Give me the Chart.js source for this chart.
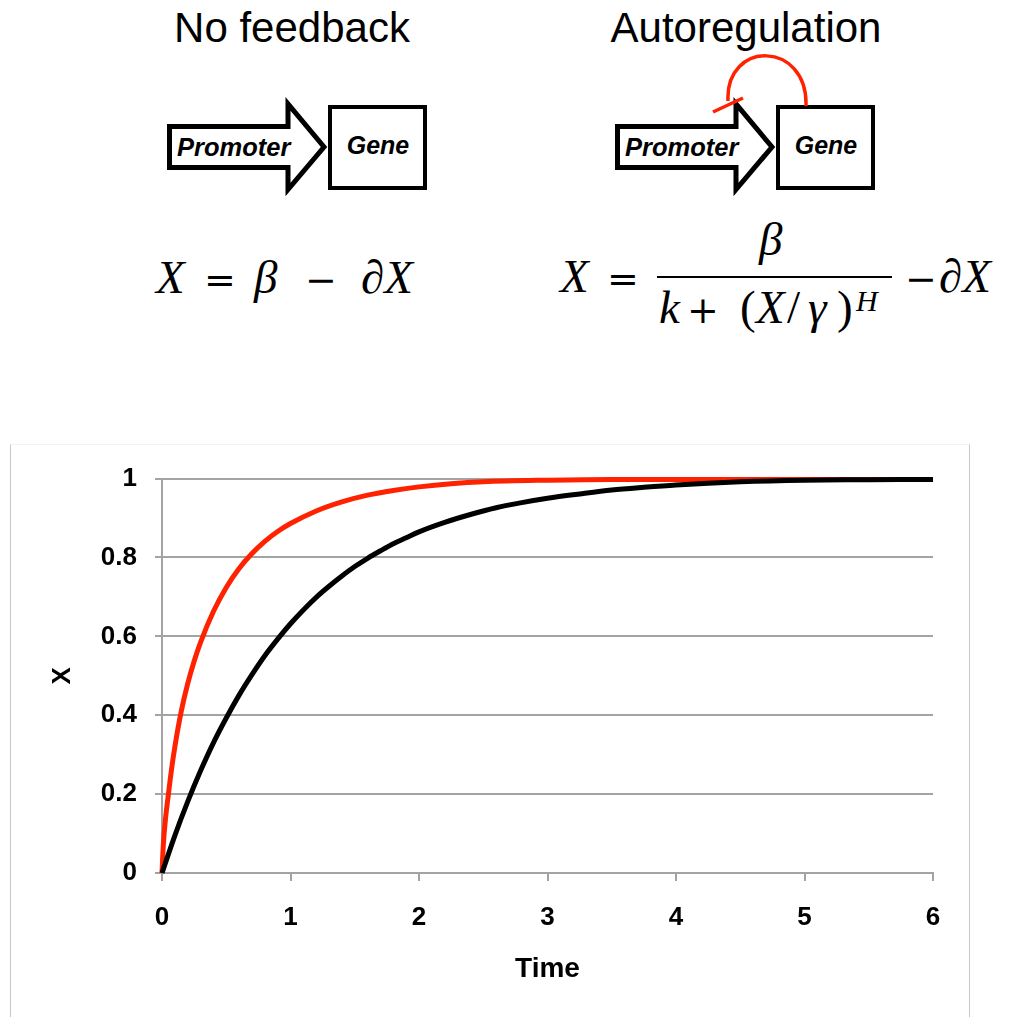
<!DOCTYPE html>
<html>
<head>
<meta charset="utf-8">
<title>Autoregulation</title>
<script src="https://cdn.jsdelivr.net/npm/chart.js@4.4.1/dist/chart.umd.min.js"></script>
<style>
  html, body { margin: 0; padding: 0; background: #fff; }
  body { width: 1011px; height: 1017px; position: relative; overflow: hidden; }
  #top { position: absolute; left: 0; top: 0; }
  #frame { position: absolute; left: 10px; top: 444px; width: 958px; height: 580px;
           border-left: 1px solid #c8c8c8; border-right: 1px solid #c8c8c8; border-top: 1px solid #f3f3f3; }
  #wrap { position: absolute; left: 10px; top: 445px; width: 958px; height: 572px; }
  .sans { font-family: "Liberation Sans", Arial, sans-serif; }
  .math { font-family: "Liberation Serif", "DejaVu Serif", serif; font-size: 47px; }
  .math .v { font-style: italic; }
  .math .op { font-family: "DejaVu Serif", serif; font-size: 38px; }
</style>
</head>
<body>

<svg id="top" width="1011" height="440" xmlns="http://www.w3.org/2000/svg">
  <text class="sans" x="292" y="42" font-size="42" text-anchor="middle">No feedback</text>
  <text class="sans" x="746" y="42" font-size="42" text-anchor="middle">Autoregulation</text>

  <!-- promoter arrow + gene box, left one plain -->
  <g id="construct">
    <polygon points="169.5,126.5 288,126.5 288,104 324,147 288,189.5 288,167.5 169.5,167.5"
             fill="#fff" stroke="#000" stroke-width="5" stroke-linejoin="miter"/>
    <rect x="330" y="107" width="95" height="81" fill="#fff" stroke="#000" stroke-width="4"/>
    <text class="sans" x="177" y="156" font-size="25.5" font-weight="bold" font-style="italic">Promoter</text>
    <text class="sans" x="378" y="154" font-size="25" font-weight="bold" font-style="italic" text-anchor="middle">Gene</text>
  </g>
  <use href="#construct" transform="translate(448,0)"/>

  <!-- negative feedback loop -->
  <path d="M 728 101 C 725 40, 808 40, 806 106" fill="none" stroke="#ff2200" stroke-width="3.5"/>
  <line x1="713" y1="112" x2="743" y2="98" stroke="#ff2200" stroke-width="3.5"/>

  <!-- rate equations -->
  <g class="math">
    <text class="v" x="156" y="293">X</text>
    <text class="op" x="204" y="293">=</text>
    <text class="v" x="254" y="293">β</text>
    <text class="op" x="305" y="293">−</text>
    <text class="v" x="361" y="293">∂X</text>

    <text class="v" x="560" y="292">X</text>
    <text class="op" x="607" y="292">=</text>
    <text class="v" x="759" y="255">β</text>
    <line x1="657" y1="277" x2="892" y2="277" stroke="#000" stroke-width="2"/>
    <text class="v" x="659" y="323">k</text>
    <text class="op" x="687" y="323">+</text>
    <text x="740" y="323">(</text>
    <text class="v" x="756" y="323">X</text>
    <text x="787" y="323">/</text>
    <text class="v" x="808" y="323">γ</text>
    <text x="837" y="323">)</text>
    <text class="v" x="856" y="311" font-size="30">H</text>
    <text class="op" x="905" y="292">−</text>
    <text class="v" x="939" y="292">∂X</text>
  </g>
</svg>

<div id="frame"></div>
<div id="wrap"><canvas id="myChart" width="958" height="572"></canvas></div>

<script>
// no feedback (black)
var time_plain = [0, 0.1, 0.2, 0.3, 0.4, 0.5, 0.6, 0.7, 0.8, 0.9, 1.0, 1.1, 1.2, 1.3, 1.4, 1.5,
                  1.6, 1.7, 1.8, 1.9, 2.0, 2.2, 2.4, 2.6, 2.8, 3.0, 3.25, 3.5, 3.75, 4.0,
                  4.5, 5.0, 5.5, 6.0];
var x_plain = [0, 0.095, 0.181, 0.259, 0.330, 0.393, 0.451, 0.503, 0.551, 0.593, 0.632, 0.667,
               0.699, 0.727, 0.753, 0.777, 0.798, 0.817, 0.835, 0.850, 0.865, 0.889, 0.909,
               0.926, 0.939, 0.950, 0.961, 0.971, 0.978, 0.984, 0.992, 0.996, 0.997, 0.998];

// negative autoregulation (red)
var time_auto = [0, 0.01, 0.025, 0.05, 0.075, 0.1, 0.15, 0.2, 0.25, 0.3, 0.4, 0.5, 0.6, 0.7,
                 0.8, 0.9, 1.0, 1.2, 1.4, 1.6, 1.8, 2.0, 2.25, 2.5, 3.0, 3.5, 4.0, 5.0, 6.0];
var x_auto = [0, 0.07, 0.13, 0.2, 0.265, 0.32, 0.41, 0.48, 0.537, 0.585, 0.663, 0.724, 0.772,
              0.810, 0.841, 0.866, 0.886, 0.918, 0.941, 0.958, 0.970, 0.979, 0.987, 0.992,
              0.996, 0.998, 0.998, 0.998, 0.998];

var xTicks = [0, 1, 2, 3, 4, 5, 6];
var xTickLabels = ['0', '1', '2', '3', '4', '5', '6'];
var yTicks = [0, 0.2, 0.4, 0.6, 0.8, 1];
var yTickLabels = ['0', '0.2', '0.4', '0.6', '0.8', '1'];

function pts(ts, ys) {
    return ts.map(function(t, i) { return {x: t, y: ys[i]}; });
}

var gridColor = '#a3a3a3';
var sansFamily = '"Liberation Sans", Arial, sans-serif';
var tickFont = {family: sansFamily, size: 26, weight: 'bold'};

var ctx = document.getElementById('myChart');
var myChart = new Chart(ctx, {
    type: 'scatter',
    data: {
        // black listed first with lower order so it sits on top of the red one
        datasets: [{
            label: 'No feedback',
            data: pts(time_plain, x_plain),
            borderColor: '#000000',
            borderWidth: 5,
            showLine: true,
            pointRadius: 0,
            cubicInterpolationMode: 'monotone',
            clip: false,
            order: 0
        }, {
            label: 'Autoregulation',
            data: pts(time_auto, x_auto),
            borderColor: '#ff2200',
            borderWidth: 5,
            showLine: true,
            pointRadius: 0,
            cubicInterpolationMode: 'monotone',
            clip: false,
            order: 1
        }]
    },
    options: {
        responsive: false,
        animation: false,
        devicePixelRatio: 1,
        layout: {padding: {top: 30, right: 35, left: 0, bottom: 0}},
        plugins: {legend: {display: false}, tooltip: {enabled: false}},
        scales: {
            x: {
                type: 'linear',
                min: 0,
                max: 6,
                afterBuildTicks: function(scale) {
                    scale.ticks = xTicks.map(function(v) { return {value: v}; });
                },
                afterFit: function(scale) { scale.height = 144; },
                ticks: {
                    color: '#000',
                    font: tickFont,
                    padding: 21,
                    maxRotation: 0,
                    callback: function(v, i) { return xTickLabels[i]; }
                },
                grid: {
                    drawOnChartArea: false,
                    drawTicks: true,
                    tickLength: 8,
                    color: gridColor,
                    lineWidth: 2
                },
                border: {color: gridColor, width: 2},
                title: {
                    display: true,
                    text: 'Time',
                    color: '#000',
                    font: {family: sansFamily, size: 28, weight: 'bold'},
                    padding: {top: 0, bottom: 31}
                }
            },
            y: {
                min: 0,
                max: 1,
                afterBuildTicks: function(scale) {
                    scale.ticks = yTicks.map(function(v) { return {value: v}; });
                },
                afterFit: function(scale) { scale.width = 152; },
                ticks: {
                    color: '#000',
                    font: tickFont,
                    padding: 18,
                    callback: function(v, i) { return yTickLabels[i]; }
                },
                grid: {
                    color: gridColor,
                    lineWidth: 2,
                    tickLength: 7
                },
                border: {color: gridColor, width: 2},
                title: {
                    display: true,
                    text: 'X',
                    color: '#000',
                    font: {family: sansFamily, size: 26, weight: 'bold'},
                    padding: {top: 37, bottom: 0}
                }
            }
        }
    }
});
</script>
</body>
</html>
